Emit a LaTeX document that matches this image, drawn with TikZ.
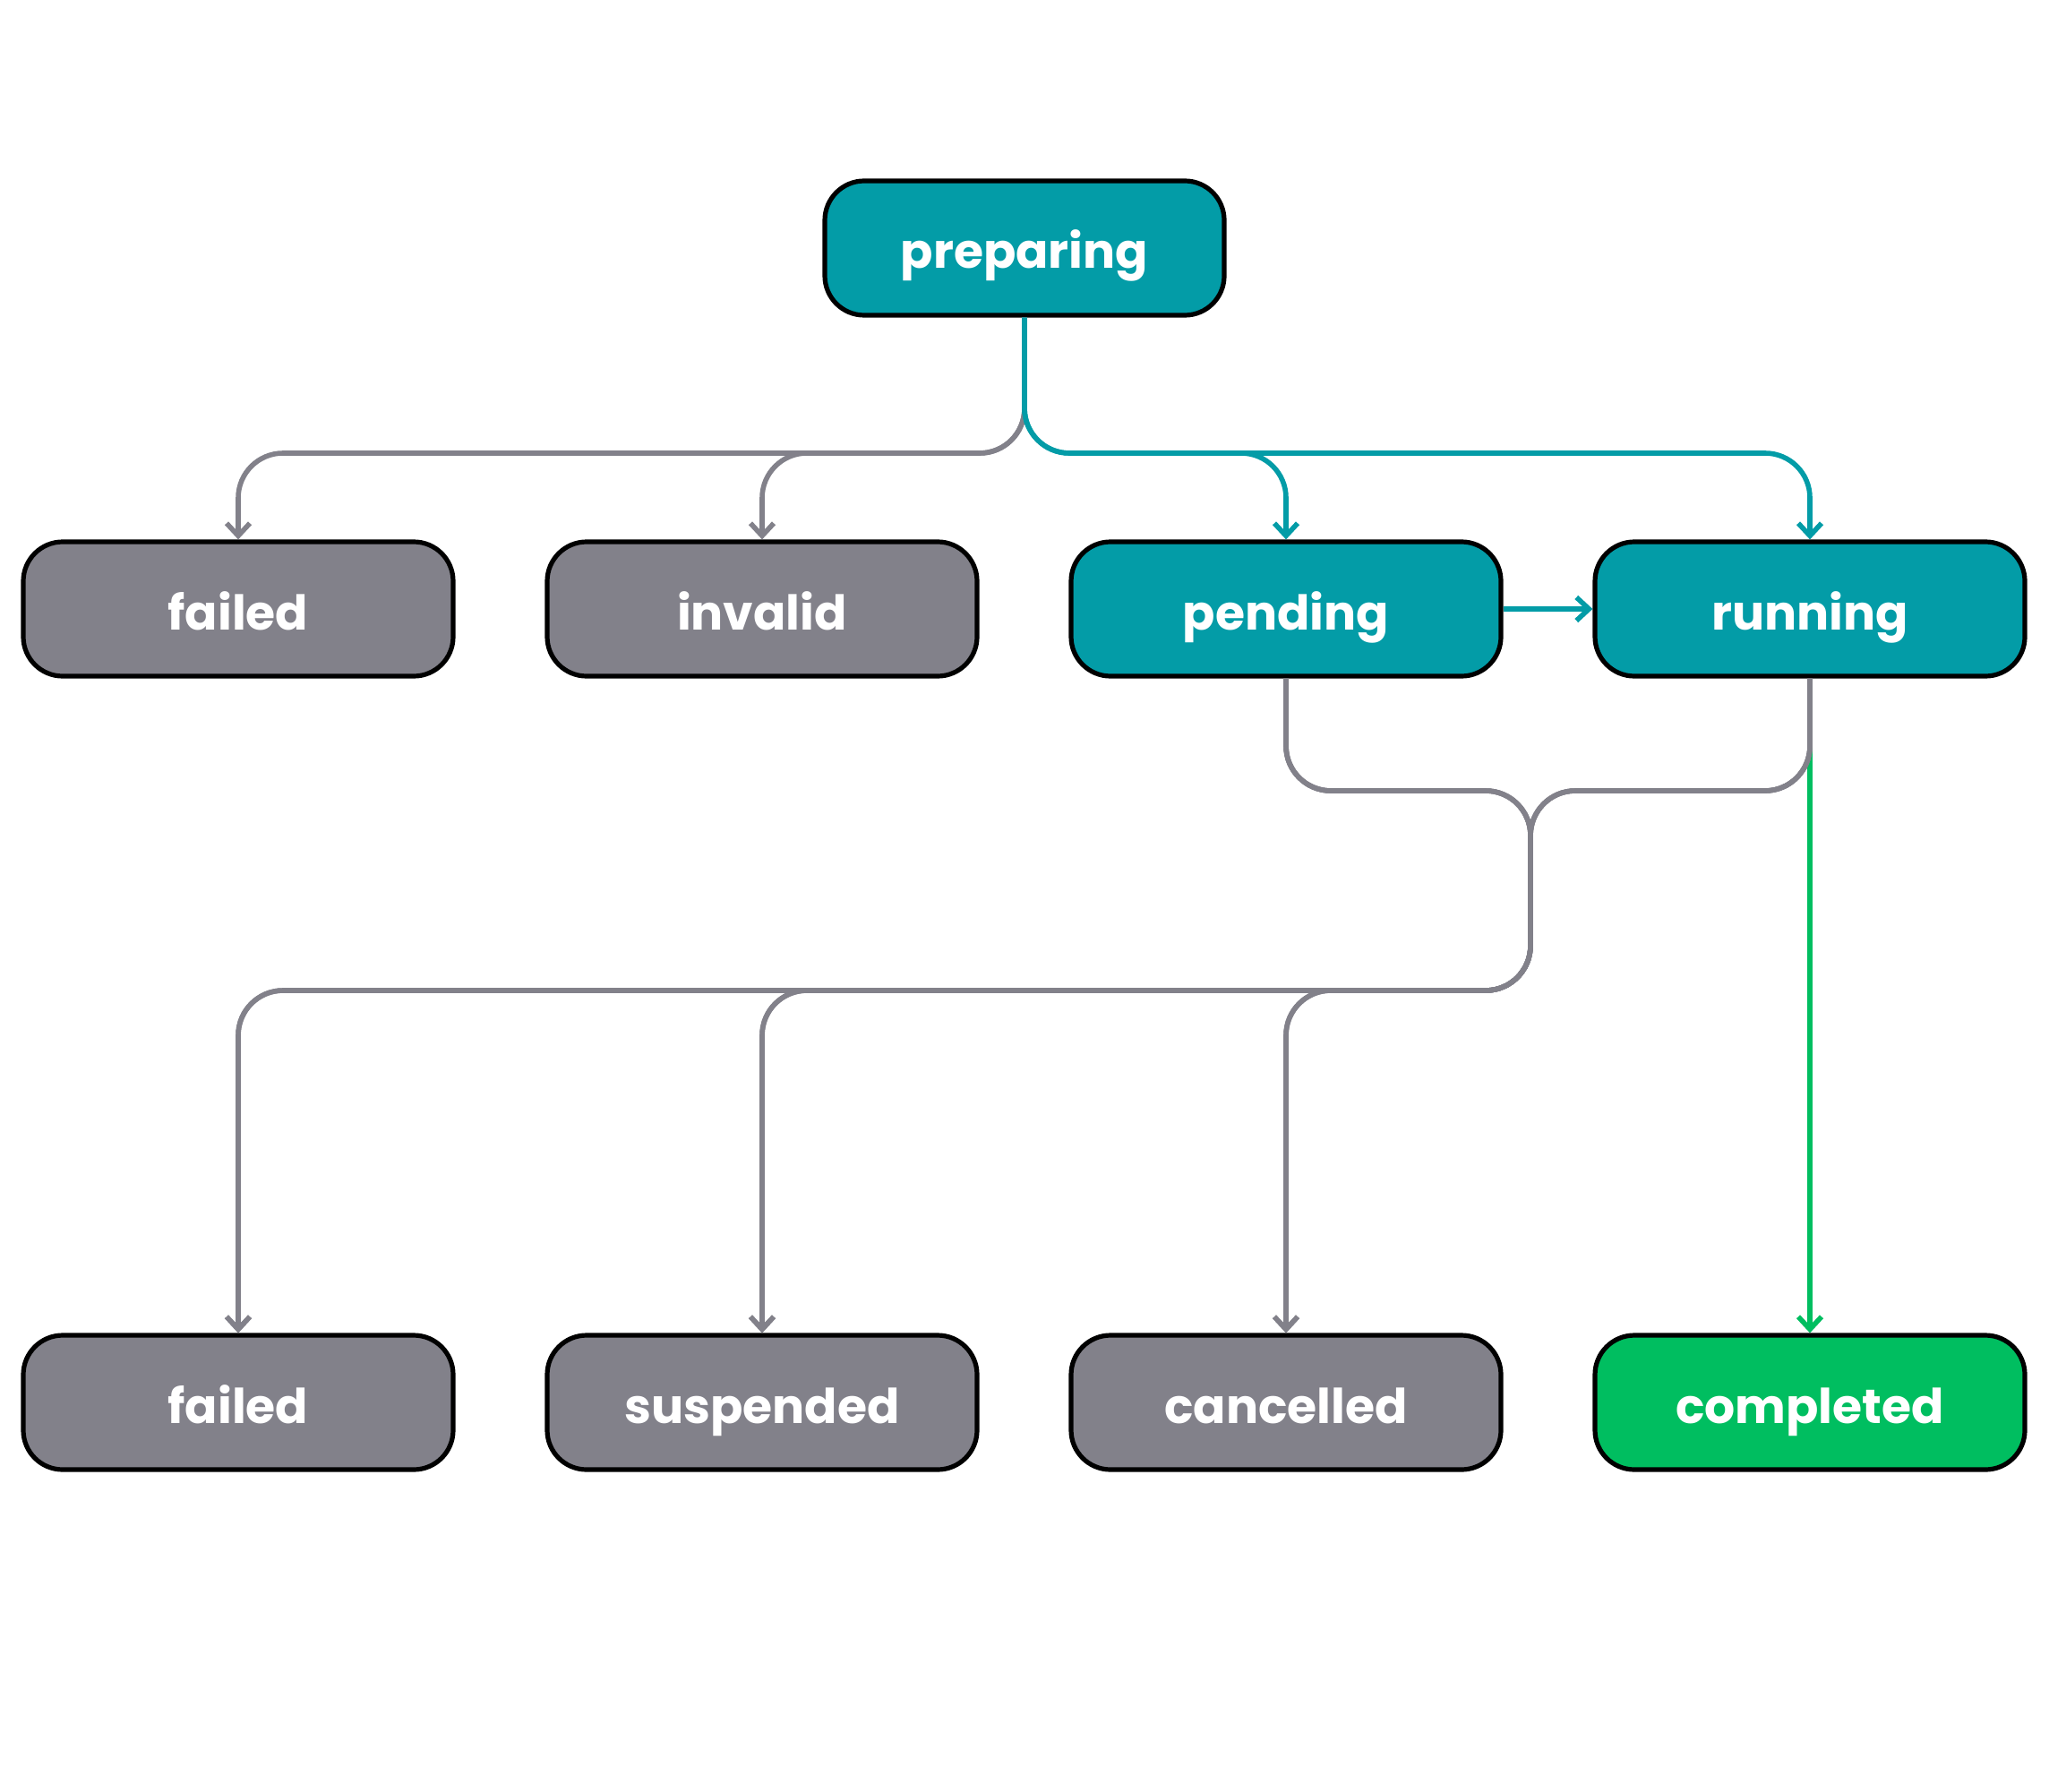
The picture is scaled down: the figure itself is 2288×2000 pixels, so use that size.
\documentclass[tikz,border=0pt]{standalone}
\usepackage{fontspec}
\setmainfont{Poppins}
\usetikzlibrary{arrows.meta}

\definecolor{tealbox}{RGB}{3,156,167}
\definecolor{greybox}{RGB}{130,129,138}
\definecolor{greenbox}{RGB}{0,190,96}

\tikzset{
  state/.style={draw=black, line width=1.3pt, rounded corners=11pt,
    minimum width=120pt, minimum height=37.5pt, inner sep=0pt,
    text height=11.5pt, text depth=0pt,
    text=white, font=\fontsize{13.4}{16}\selectfont\bfseries},
  active/.style={state, fill=tealbox},
  idle/.style={state, fill=greybox},
  done/.style={state, fill=greenbox},
  flow/.style={line width=1.4pt, rounded corners=12.5pt,
    -{Straight Barb[length=3.5pt,width=6.5pt,line width=1.4pt]}},
  greyflow/.style={flow, draw=greybox},
  tealflow/.style={flow, draw=tealbox},
  greenflow/.style={flow, draw=greenbox},
}

\begin{document}
\begin{tikzpicture}[x=0.25pt,y=-0.25pt]
\useasboundingbox (0,0) rectangle (2288,2000);

% states
\node[active, minimum width=111.5pt] (preparing) at (1144,277) {preparing};
\node[idle] (failA) at (266,680) {failed};
\node[idle] (invalid) at (851,680) {invalid};
\node[active] (pending) at (1436,680) {pending};
\node[active] (running) at (2021,680) {running};
\node[idle] (failB) at (266,1566) {failed};
\node[idle] (suspended) at (851,1566) {suspended};
\node[idle] (cancelled) at (1436,1566) {cancelled};
\node[done] (completed) at (2021,1566) {completed};

% from preparing
\draw[greyflow] (preparing.south) -- (1144,506) -- (266,506) -- (failA.north);
\draw[greyflow] (preparing.south) -- (1144,506) -- (851,506) -- (invalid.north);
\draw[tealflow] (preparing.south) -- (1144,506) -- (1436,506) -- (pending.north);
\draw[tealflow] (preparing.south) -- (1144,506) -- (2021,506) -- (running.north);
\draw[tealflow] (pending.east) -- (running.west);

% success
\draw[greenflow] (running.south) -- (completed.north);

% from pending and running
\foreach \src in {pending,running}{
  \foreach \dst in {failB,suspended,cancelled}{
    \draw[greyflow] (\src.south) -- (\src.south |- 0,883) -- (1709,883)
      -- (1709,1106) -- (\dst.north |- 0,1106) -- (\dst.north);
  }
}
\end{tikzpicture}
\end{document}
